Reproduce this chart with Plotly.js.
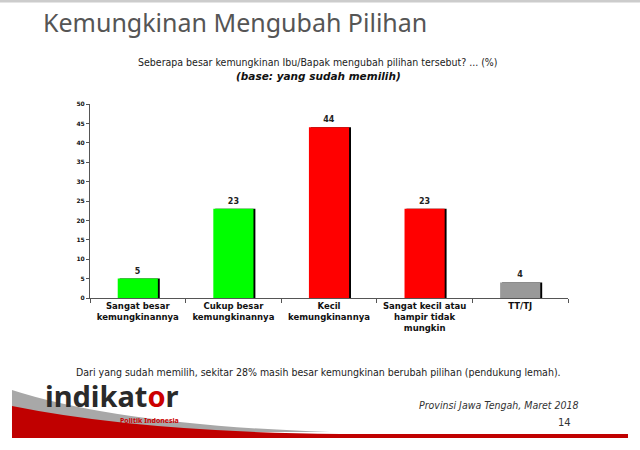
<!DOCTYPE html>
<html><head><meta charset="utf-8">
<script src="https://cdn.plot.ly/plotly-3.0.1.min.js"></script>
<style>html,body{margin:0;padding:0;background:#fff}#chart{width:640px;height:450px}</style>
</head><body><div id="chart"></div>
<script>
const categories = ["Sangat besar<br>kemungkinannya", "Cukup besar<br>kemungkinannya", "Kecil<br>kemungkinannya", "Sangat kecil atau<br>hampir tidak<br>mungkin", "TT/TJ"];
const values = [5, 23, 44, 23, 4];
const barColors = ["#00ff00", "#00ff00", "#ff0000", "#ff0000", "#999999"];
const yTicks = [0, 5, 10, 15, 20, 25, 30, 35, 40, 45, 50];

const W = 640, H = 450;
const L = 90, R = 72, T = 104, B = 152;
const pw = W - L - R, ph = H - T - B;
function px(x) { return ((x - L) / pw).toFixed(4); }
function py(y) { return ((H - B - y) / ph).toFixed(4); }
const graySwoosh = `M ${px(12)} ${py(390)} Q ${px(120)} ${py(425)} ${px(330)} ${py(432)} L ${px(12)} ${py(432)} Z`;
const redSwoosh = `M ${px(12)} ${py(406)} Q ${px(140)} ${py(432)} ${px(340)} ${py(434)} L ${px(628)} ${py(434)} L ${px(628)} ${py(438)} L ${px(12)} ${py(438)} Z`;

const shadow = {
  type: 'bar', x: categories, y: values, width: 0.42, offset: -0.19,
  marker: { color: '#000000' }, hoverinfo: 'skip', showlegend: false
};
const bars = {
  type: 'bar', x: categories, y: values, width: 0.42, offset: -0.21,
  marker: { color: barColors },
  text: values.map(String), textposition: 'outside', cliponaxis: false,
  textfont: { family: 'DejaVu Sans', size: 8, color: '#222', weight: 'bold' },
  showlegend: false
};

const layout = {
  width: W, height: H,
  margin: { l: L, r: R, t: T, b: B },
  paper_bgcolor: '#ffffff', plot_bgcolor: '#ffffff',
  barmode: 'overlay',
  font: { family: 'DejaVu Sans', color: '#222' },
  xaxis: {
    type: 'category', showline: true, linecolor: '#555', linewidth: 1,
    ticks: 'outside', tickson: 'boundaries', ticklen: 4, tickcolor: '#555',
    tickfont: { family: 'DejaVu Sans', size: 8.5, color: '#111', weight: 'bold' },
    showgrid: false, zeroline: false, fixedrange: true
  },
  yaxis: {
    range: [0, 50], tickvals: yTicks, ticktext: yTicks.map(String),
    showline: true, linecolor: '#555', linewidth: 1,
    ticks: 'outside', ticklen: 3, tickcolor: '#555',
    tickfont: { family: 'DejaVu Sans', size: 6, color: '#111', weight: 'bold' },
    showgrid: false, zeroline: false, fixedrange: true
  },
  annotations: [
    { text: 'Kemungkinan Mengubah Pilihan', xref: 'paper', yref: 'paper', x: px(41), y: py(22), xanchor: 'left', yanchor: 'middle', showarrow: false,
      font: { family: 'Noto Sans', size: 25, color: '#555555' } },
    { text: 'Seberapa besar kemungkinan Ibu/Bapak mengubah pilihan tersebut? ... (%)', xref: 'paper', yref: 'paper', x: px(318), y: py(62), xanchor: 'center', yanchor: 'middle', showarrow: false,
      font: { family: 'DejaVu Sans Condensed', size: 10.5, color: '#222' } },
    { text: '<b><i>(base: yang sudah memilih)</i></b>', xref: 'paper', yref: 'paper', x: px(318), y: py(76), xanchor: 'center', yanchor: 'middle', showarrow: false,
      font: { family: 'DejaVu Sans', size: 10.5, color: '#111' } },
    { text: 'Dari yang sudah memilih, sekitar 28% masih besar kemungkinan berubah pilihan (pendukung lemah).', xref: 'paper', yref: 'paper', x: px(318), y: py(372), xanchor: 'center', yanchor: 'middle', showarrow: false,
      font: { family: 'DejaVu Sans Condensed', size: 10.5, color: '#222' } },
    { text: '<b>indikat<span style="color:#cc0000">o</span>r</b>', xref: 'paper', yref: 'paper', x: px(43), y: py(395), xanchor: 'left', yanchor: 'middle', showarrow: false,
      font: { family: 'Noto Sans', size: 29, color: '#2a2a2a' } },
    { text: '<b>Politik Indonesia</b>', xref: 'paper', yref: 'paper', x: px(150), y: py(420), xanchor: 'center', yanchor: 'middle', showarrow: false,
      font: { family: 'Noto Sans', size: 7, color: '#cc0000' } },
    { text: '<i>Provinsi Jawa Tengah, Maret 2018</i>', xref: 'paper', yref: 'paper', x: px(581), y: py(405), xanchor: 'right', yanchor: 'middle', showarrow: false,
      font: { family: 'DejaVu Sans Condensed', size: 10.5, color: '#333' } },
    { text: '14', xref: 'paper', yref: 'paper', x: px(573), y: py(423), xanchor: 'right', yanchor: 'middle', showarrow: false,
      font: { family: 'DejaVu Sans', size: 10, color: '#333' } }
  ],
  shapes: [
    { type: 'line', xref: 'paper', yref: 'paper', x0: px(0), x1: px(640), y0: py(1), y1: py(1), line: { color: '#cccccc', width: 3 } },
    { type: 'path', xref: 'paper', yref: 'paper', path: graySwoosh, fillcolor: '#a8a8a8', line: { width: 0 }, layer: 'below' },
    { type: 'path', xref: 'paper', yref: 'paper', path: redSwoosh, fillcolor: '#c00000', line: { width: 0 }, layer: 'below' }
  ]
};

Plotly.newPlot('chart', [shadow, bars], layout, { displayModeBar: false, staticPlot: true });
</script>
</body></html>
